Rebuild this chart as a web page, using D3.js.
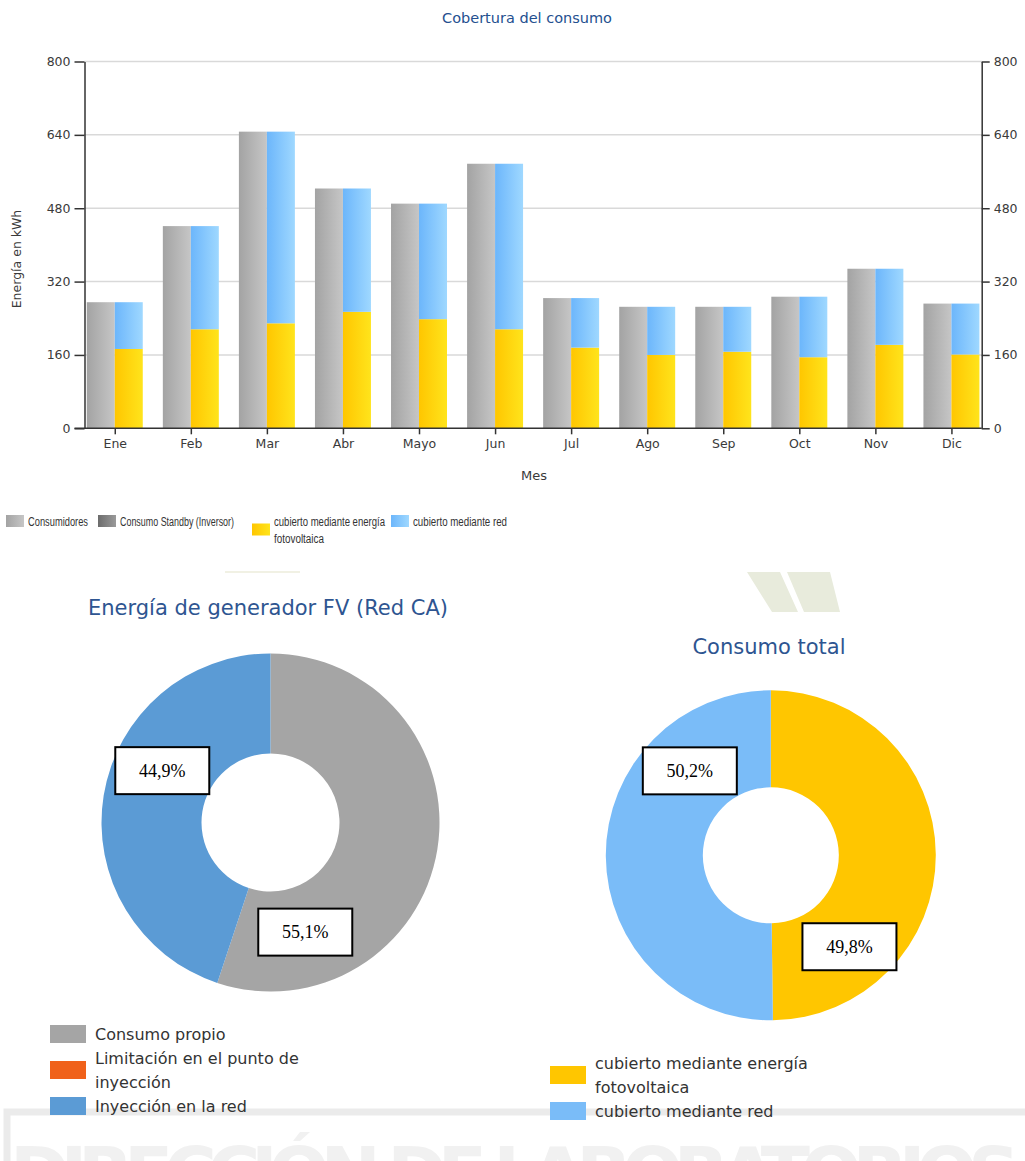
<!DOCTYPE html>
<html>
<head>
<meta charset="utf-8">
<script src="https://cdn.jsdelivr.net/npm/d3@7"></script>
<style>
  body { margin: 0; background: #fff; }
  svg { display: block; }
  .tick text { font-family: 'DejaVu Sans', sans-serif; font-size: 12.5px; fill: #3a3a3a; }
</style>
</head>
<body>
<div id="chart"></div>
<script>
'use strict';

// monthly consumption (kWh)
const meses = ['Ene', 'Feb', 'Mar', 'Abr', 'Mayo', 'Jun', 'Jul', 'Ago', 'Sep', 'Oct', 'Nov', 'Dic'];
const consumidores = [275, 441, 647, 523, 490, 577, 284, 265, 265, 287, 348, 272];
const cubiertoFV = [173, 216, 229, 254, 238, 216, 176, 160, 167, 155, 182, 161];
const cubiertoRed = consumidores.map((v, i) => v - cubiertoFV[i]);
const yTicks = [0, 160, 320, 480, 640, 800];

const barLegend = [
  { label: ['Consumidores'], grad: 'gGray', w: [60] },
  { label: ['Consumo Standby (Inversor)'], grad: 'gDark', w: [114] },
  { label: ['cubierto mediante energía', 'fotovoltaica'], grad: 'gYellow', w: [111, 50] },
  { label: ['cubierto mediante red'], grad: 'gBlue', w: [94] },
];

// donuts
const genLabels = ['Consumo propio', 'Limitación en el punto de|inyección', 'Inyección en la red'];
const genValues = [55.1, 0, 44.9];
const genColors = ['#a5a5a5', '#f0611a', '#5b9bd5'];

const totLabels = ['cubierto mediante energía|fotovoltaica', 'cubierto mediante red'];
const totValues = [49.8, 50.2];
const totColors = ['#ffc600', '#7abcf8'];

const W = 1025, H = 1161;
const fmt = (v) => v.toFixed(1).replace('.', ',') + '%';

const svg = d3.select('#chart').append('svg').attr('width', W).attr('height', H);
svg.append('rect').attr('width', W).attr('height', H).attr('fill', '#fff');

// background watermark
const wm = svg.append('g').attr('fill', '#f1f1f1');
wm.append('path')
  .attr('d', 'M7,1161 V1112 H1025')
  .attr('fill', 'none').attr('stroke', '#ebebeb').attr('stroke-width', 7);
wm.append('text')
  .attr('x', 10).attr('y', 1198)
  .attr('font-family', 'DejaVu Sans, sans-serif').attr('font-size', 72).attr('font-weight', 'bold')
  .attr('textLength', 1010)
  .text('DIRECCIÓN DE LABORATORIOS');
svg.append('rect').attr('x', 225).attr('y', 571).attr('width', 75).attr('height', 2).attr('fill', '#f1f1e4');
svg.append('path').attr('fill', '#e8ebdc')
  .attr('d', 'M747,572 L780,572 L798,612 L772,612 Z M787,572 L830,572 L840,612 L804,612 Z');

// gradients
const defs = svg.append('defs');
const grad = (id, c0, c1) => {
  const g = defs.append('linearGradient').attr('id', id).attr('x1', 0).attr('x2', 1).attr('y1', 0).attr('y2', 0);
  g.append('stop').attr('offset', 0).attr('stop-color', c0);
  g.append('stop').attr('offset', 1).attr('stop-color', c1);
};
grad('gGray', '#a3a3a3', '#c6c6c6');
grad('gDark', '#6c6c6c', '#9a9a9a');
grad('gYellow', '#ffc600', '#ffe41c');
grad('gBlue', '#6cb6fb', '#9fd8ff');

// ---------- bar chart ----------
const plot = { left: 84.5, right: 981.7, top: 61.5, bottom: 428.3 };

const x = d3.scaleBand().domain(meses).range([plot.left, plot.right])
  .paddingInner(0.264).paddingOuter(0.03);
const x1 = d3.scaleBand().domain(['cons', 'cob']).range([0, x.bandwidth()]);
const y = d3.scaleLinear().domain([0, 800]).range([plot.bottom, plot.top]);

svg.append('text')
  .attr('x', 527).attr('y', 23).attr('text-anchor', 'middle')
  .attr('font-family', 'DejaVu Sans, sans-serif').attr('font-size', 14.5).attr('fill', '#24508f')
  .text('Cobertura del consumo');

svg.append('g')
  .selectAll('line')
  .data(yTicks.filter((t) => t > 0))
  .join('line')
  .attr('x1', plot.left).attr('x2', plot.right)
  .attr('y1', (d) => y(d)).attr('y2', (d) => y(d))
  .attr('stroke', '#d9d9d9').attr('stroke-width', 1.5);

const groups = svg.append('g')
  .selectAll('g')
  .data(meses)
  .join('g')
  .attr('transform', (d) => `translate(${x(d)},0)`);

groups.append('rect')
  .attr('x', x1('cons')).attr('width', x1.bandwidth())
  .attr('y', (d, i) => y(consumidores[i]))
  .attr('height', (d, i) => y(0) - y(consumidores[i]))
  .attr('fill', 'url(#gGray)');

groups.append('rect')
  .attr('x', x1('cob')).attr('width', x1.bandwidth())
  .attr('y', (d, i) => y(cubiertoFV[i]))
  .attr('height', (d, i) => y(0) - y(cubiertoFV[i]))
  .attr('fill', 'url(#gYellow)');

groups.append('rect')
  .attr('x', x1('cob')).attr('width', x1.bandwidth())
  .attr('y', (d, i) => y(cubiertoFV[i] + cubiertoRed[i]))
  .attr('height', (d, i) => y(cubiertoFV[i]) - y(cubiertoFV[i] + cubiertoRed[i]))
  .attr('fill', 'url(#gBlue)');

const axisStyle = (g) => {
  g.select('.domain').attr('stroke', '#333').attr('stroke-width', 1.5);
  g.selectAll('.tick line').attr('stroke', '#333').attr('stroke-width', 1.5);
};

svg.append('g')
  .attr('transform', `translate(${plot.left},0)`)
  .call(d3.axisLeft(y).tickValues(yTicks).tickSize(10).tickSizeOuter(0).tickPadding(4))
  .call(axisStyle);

svg.append('g')
  .attr('transform', `translate(${plot.right},0)`)
  .call(d3.axisRight(y).tickValues(yTicks).tickSize(8).tickSizeOuter(0).tickPadding(4))
  .call(axisStyle);

svg.append('g')
  .attr('transform', `translate(0,${plot.bottom})`)
  .call(d3.axisBottom(d3.scalePoint().domain(meses).range([x(meses[0]) + x.bandwidth() / 2, x(meses[11]) + x.bandwidth() / 2]))
    .tickSize(6).tickSizeOuter(0).tickPadding(5))
  .call(axisStyle)
  .call((g) => g.select('.domain').remove());

svg.append('line')
  .attr('x1', plot.left - 10).attr('x2', plot.right)
  .attr('y1', plot.bottom).attr('y2', plot.bottom)
  .attr('stroke', '#333').attr('stroke-width', 1.5);

svg.append('text')
  .attr('transform', 'translate(21,259) rotate(-90)')
  .attr('text-anchor', 'middle')
  .attr('font-family', 'DejaVu Sans, sans-serif').attr('font-size', 12.5).attr('fill', '#3a3a3a')
  .text('Energía en kWh');

svg.append('text')
  .attr('x', 534).attr('y', 480).attr('text-anchor', 'middle')
  .attr('font-family', 'DejaVu Sans, sans-serif').attr('font-size', 13).attr('fill', '#3a3a3a')
  .text('Mes');

// bar legend
const legX = [6, 98, 252, 391];
const bl = svg.append('g')
  .selectAll('g')
  .data(barLegend)
  .join('g')
  .attr('transform', (d, i) => `translate(${legX[i]},515)`);
bl.append('rect')
  .attr('y', (d) => (d.label.length > 1 ? 8.5 : 0))
  .attr('width', 18).attr('height', 12)
  .attr('fill', (d) => `url(#${d.grad})`);
bl.selectAll('text')
  .data((d) => d.label.map((s, k) => ({ s, w: d.w[k] })))
  .join('text')
  .attr('font-family', 'Liberation Sans, sans-serif').attr('font-size', 12.5).attr('fill', '#333')
  .attr('x', 22).attr('y', (d, i) => 10.5 + i * 17)
  .attr('textLength', (d) => d.w).attr('lengthAdjust', 'spacingAndGlyphs')
  .text((d) => d.s);

// ---------- donuts ----------
const donut = (opts) => {
  const g = svg.append('g').attr('transform', `translate(${opts.cx},${opts.cy})`);
  const pie = d3.pie().sort(null)(opts.values);
  const arc = d3.arc().innerRadius(opts.r0).outerRadius(opts.r1);

  g.selectAll('path')
    .data(pie)
    .join('path')
    .attr('d', arc)
    .attr('fill', (d, i) => opts.colors[i]);

  // percentage boxes
  const lbl = g.selectAll('g.lbl')
    .data(pie.filter((d) => d.value > 0))
    .join('g')
    .attr('class', 'lbl')
    .attr('transform', (d) => {
      const p = d3.pointRadial(opts.labelAngle[d.index] * Math.PI / 180, opts.labelRadius[d.index]);
      return `translate(${p[0]},${p[1]})`;
    });
  lbl.append('rect')
    .attr('x', -47).attr('y', -23.5).attr('width', 94).attr('height', 47)
    .attr('fill', '#fff').attr('stroke', '#000').attr('stroke-width', 2);
  lbl.append('text')
    .attr('text-anchor', 'middle').attr('y', 6)
    .attr('font-family', 'Liberation Serif, serif').attr('font-size', 18).attr('fill', '#000')
    .text((d) => fmt(d.value));

  svg.append('text')
    .attr('x', opts.titleX).attr('y', opts.titleY).attr('text-anchor', 'middle')
    .attr('font-family', 'DejaVu Sans, sans-serif').attr('font-size', 21).attr('fill', '#2e5591')
    .text(opts.title);

  // legend
  let yy = opts.legY;
  opts.labels.forEach((l, i) => {
    const lines = l.split('|');
    const h = lines.length * 24;
    svg.append('rect')
      .attr('x', opts.legX).attr('y', yy + h / 2 - 9).attr('width', 36).attr('height', 18)
      .attr('fill', opts.colors[i]);
    const t = svg.append('text')
      .attr('font-family', 'DejaVu Sans, sans-serif').attr('font-size', 16).attr('fill', '#333');
    lines.forEach((s, k) => {
      t.append('tspan').attr('x', opts.legX + 45).attr('y', yy + 18 + k * 24).text(s);
    });
    yy += h;
  });
};

donut({
  cx: 270.5, cy: 822.5, r0: 69, r1: 169,
  values: genValues, colors: genColors, labels: genLabels,
  labelAngle: [162.4, 0, 295.6], labelRadius: [115, 0, 120],
  title: 'Energía de generador FV (Red CA)', titleX: 268, titleY: 615,
  legX: 50, legY: 1022,
});

donut({
  cx: 770.8, cy: 855.3, r0: 68, r1: 165,
  values: totValues, colors: totColors, labels: totLabels,
  labelAngle: [139.3, 316.2], labelRadius: [120.6, 117],
  title: 'Consumo total', titleX: 769, titleY: 654,
  legX: 550, legY: 1051,
});
</script>
</body>
</html>
